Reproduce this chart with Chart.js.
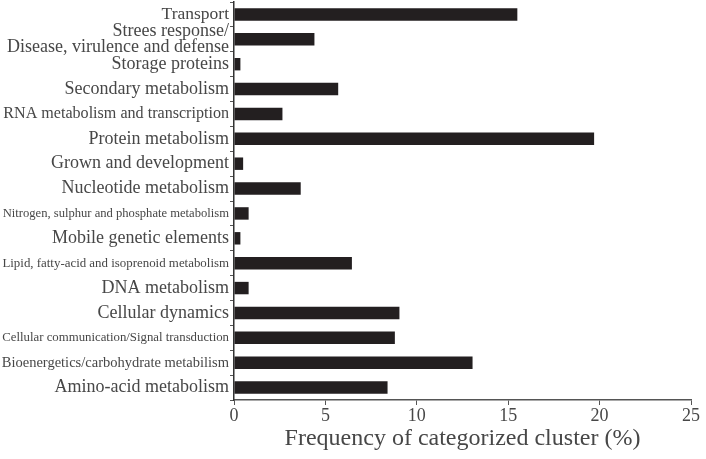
<!DOCTYPE html>
<html>
<head>
<meta charset="utf-8">
<script src="https://cdn.jsdelivr.net/npm/chart.js@4.4.1/dist/chart.umd.min.js"></script>
<style>
  html, body { margin: 0; padding: 0; background: #fff; }
  #wrap { width: 706px; height: 459px; }
</style>
</head>
<body>
<div id="wrap"><canvas id="chart" width="706" height="459"></canvas></div>
<script>
// Functional categories, top to bottom
const categories = [
  'Transport',
  ['Strees response/', 'Disease, virulence and defense'],
  'Storage proteins',
  'Secondary metabolism',
  'RNA metabolism and transcription',
  'Protein metabolism',
  'Grown and development',
  'Nucleotide metabolism',
  'Nitrogen, sulphur and phosphate metabolism',
  'Mobile genetic elements',
  'Lipid, fatty-acid and isoprenoid metabolism',
  'DNA metabolism',
  'Cellular dynamics',
  'Cellular communication/Signal transduction',
  'Bioenergetics/carbohydrate metabilism',
  'Amino-acid metabolism'
];

// Frequency of categorized cluster (%)
const frequency = [15.5, 4.4, 0.35, 5.7, 2.65, 19.7, 0.5, 3.65, 0.8, 0.35, 6.45, 0.8, 9.05, 8.8, 13.05, 8.4];

const xTicks = [0, 5, 10, 15, 20, 25];

// some of the long labels are set in a smaller face in the original
const labelSizes = [17.5, 18, 18, 18, 16.1, 18, 18, 18, 12.6, 18, 12.9, 18, 18, 12.8, 14.5, 18];

const serif = '"Liberation Serif", "Times New Roman", serif';
const textColor = '#474747';

new Chart(document.getElementById('chart').getContext('2d'), {
  type: 'bar',
  data: {
    labels: categories,
    datasets: [{
      data: frequency,
      backgroundColor: '#231f20',
      borderWidth: 0,
      categoryPercentage: 1.0,
      barPercentage: 0.5
    }]
  },
  options: {
    indexAxis: 'y',
    responsive: false,
    animation: false,
    layout: { padding: { left: 2, right: 15, top: 2, bottom: 0 } },
    plugins: {
      legend: { display: false },
      tooltip: { enabled: false }
    },
    scales: {
      x: {
        min: 0,
        max: 25,
        afterBuildTicks: (scale) => {
          scale.ticks = xTicks.map((v) => ({ value: v }));
        },
        afterFit: (scale) => { scale.height = 59; },
        border: { color: '#555', width: 1.5 },
        grid: { drawOnChartArea: false, tickLength: 5, color: '#555', tickWidth: 1 },
        ticks: {
          color: textColor,
          padding: 0,
          maxRotation: 0,
          font: { family: serif, size: 18 }
        },
        title: {
          display: true,
          text: 'Frequency of categorized cluster (%)',
          color: textColor,
          font: { family: serif, size: 24 },
          padding: { top: 0, bottom: 6 }
        }
      },
      y: {
        afterFit: (scale) => {
          scale.width = 232;
          scale.paddingTop = 0;
          scale.paddingBottom = 0;
        },
        border: { color: '#333', width: 1.5 },
        grid: { drawOnChartArea: false, offset: true, tickLength: 4, color: '#555' },
        ticks: {
          color: textColor,
          padding: 1,
          autoSkip: false,
          font: (ctx) => ({ family: serif, size: labelSizes[ctx.index] || 18, lineHeight: 0.9 })
        }
      }
    }
  }
});
</script>
</body>
</html>
